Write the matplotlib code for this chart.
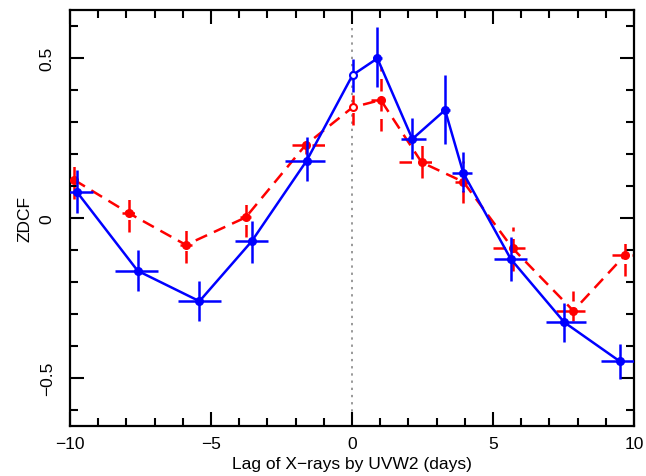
import matplotlib
matplotlib.use("Agg")
import matplotlib.pyplot as plt
from matplotlib.ticker import MultipleLocator
import numpy as np

plt.rcParams['font.family'] = ['Liberation Sans', 'DejaVu Sans']

# blue series (solid)
b_lag = [-9.76, -7.60, -5.41, -3.56, -1.61, 0.02, 0.90, 2.14, 3.30, 3.95, 5.63, 7.53, 9.50]
b_lag_lo = [0.6, 0.80, 0.77, 0.59, 0.77, 0.0, 0.15, 0.41, 0.14, 0.41, 0.59, 0.65, 0.66]
b_lag_hi = [0.58, 0.71, 0.76, 0.59, 0.65, 0.0, 0.15, 0.48, 0.18, 0.29, 0.59, 0.76, 0.55]
b_r = [0.082, -0.165, -0.260, -0.073, 0.179, 0.447, 0.499, 0.247, 0.3375, 0.140, -0.128, -0.326, -0.448]
b_r_lo = [0.066, 0.064, 0.063, 0.069, 0.062, 0.052, 0.091, 0.063, 0.107, 0.059, 0.068, 0.061, 0.055]
b_r_hi = [0.068, 0.065, 0.062, 0.065, 0.075, 0.050, 0.097, 0.065, 0.110, 0.065, 0.068, 0.059, 0.054]

# red series (dashed)
r_lag = [-9.85, -7.91, -5.89, -3.77, -1.64, 0.02, 1.02, 2.47, 3.95, 5.70, 7.85, 9.68]
r_lag_lo = [0.3, 0.25, 0.2, 0.2, 0.50, 0.0, 0.36, 0.79, 0.30, 0.71, 0.62, 0.47]
r_lag_hi = [0.41, 0.25, 0.2, 0.2, 0.68, 0.0, 0.30, 0.45, 0.29, 0.43, 0.41, 0.40]
r_r = [0.119, 0.015, -0.084, 0.002, 0.229, 0.346, 0.369, 0.174, 0.113, -0.095, -0.290, -0.116]
r_r_lo = [0.060, 0.060, 0.058, 0.062, 0.029, 0.056, 0.096, 0.049, 0.066, 0.070, 0.031, 0.066]
r_r_hi = [0.055, 0.055, 0.057, 0.052, 0.026, 0.038, 0.102, 0.062, 0.066, 0.066, 0.063, 0.040]

fig = plt.figure(figsize=(6.46, 4.77), dpi=100)
ax = fig.add_axes([0.1084, 0.1048, 0.873, 0.872])

ax.axvline(0, color='#999999', linestyle=(0, (1.2, 2.5)), linewidth=1.4, zorder=1)

# open-circle points at zero lag, filled elsewhere
r_open = np.array([abs(v) < 0.1 for v in r_lag])
b_open = np.array([abs(v) < 0.1 for v in b_lag])

eb = ax.errorbar(r_lag, r_r, xerr=[r_lag_lo, r_lag_hi], yerr=[r_r_lo, r_r_hi],
                 fmt='none', ecolor='red', elinewidth=1.8, capsize=0, zorder=2)
eb[2][0].set_linestyle((0, (5, 3)))
eb[2][1].set_linestyle((0, (5, 3)))
ax.plot(r_lag, r_r, color='red', linestyle=(0, (5, 3)), linewidth=1.8, zorder=2)
ax.plot(np.array(r_lag)[~r_open], np.array(r_r)[~r_open], 'o',
        color='red', markersize=5.5, zorder=3)
ax.plot(np.array(r_lag)[r_open], np.array(r_r)[r_open], 'o', markerfacecolor='white',
        markeredgecolor='red', markersize=5, markeredgewidth=1.5, zorder=3)

ax.errorbar(b_lag, b_r, xerr=[b_lag_lo, b_lag_hi], yerr=[b_r_lo, b_r_hi],
            fmt='none', ecolor='blue', elinewidth=1.8, capsize=0, zorder=4)
ax.plot(b_lag, b_r, color='blue', linewidth=1.8, zorder=4)
ax.plot(np.array(b_lag)[~b_open], np.array(b_r)[~b_open], 'o',
        color='blue', markersize=5.5, zorder=5)
ax.plot(np.array(b_lag)[b_open], np.array(b_r)[b_open], 'o', markerfacecolor='white',
        markeredgecolor='blue', markersize=5, markeredgewidth=1.5, zorder=5)

ax.set_xlim(-10, 10)
ax.set_ylim(-0.65, 0.65)
ax.xaxis.set_minor_locator(MultipleLocator(1))
ax.yaxis.set_minor_locator(MultipleLocator(0.1))
ax.set_xticks([-10, -5, 0, 5, 10])
ax.set_xticklabels(['\u221210', '\u22125', '0', '5', '10'])
ax.set_yticks([-0.5, 0, 0.5])
ax.set_yticklabels(['\u22120.5', '0', '0.5'], rotation=90, va='center')
ax.tick_params(which='both', direction='in', top=True, right=True, width=1.5,
               labelsize=12.5)
ax.tick_params(axis='x', pad=7)
ax.tick_params(axis='y', pad=11)
ax.tick_params(which='major', length=10)
ax.tick_params(which='minor', length=6)
for s in ax.spines.values():
    s.set_linewidth(1.6)

ax.set_xlabel('Lag of X\u2212rays by UVW2 (days)', fontsize=12.5, labelpad=4)
ax.set_ylabel('ZDCF', fontsize=12.5, labelpad=5)

fig.savefig('out.png', dpi=100)
